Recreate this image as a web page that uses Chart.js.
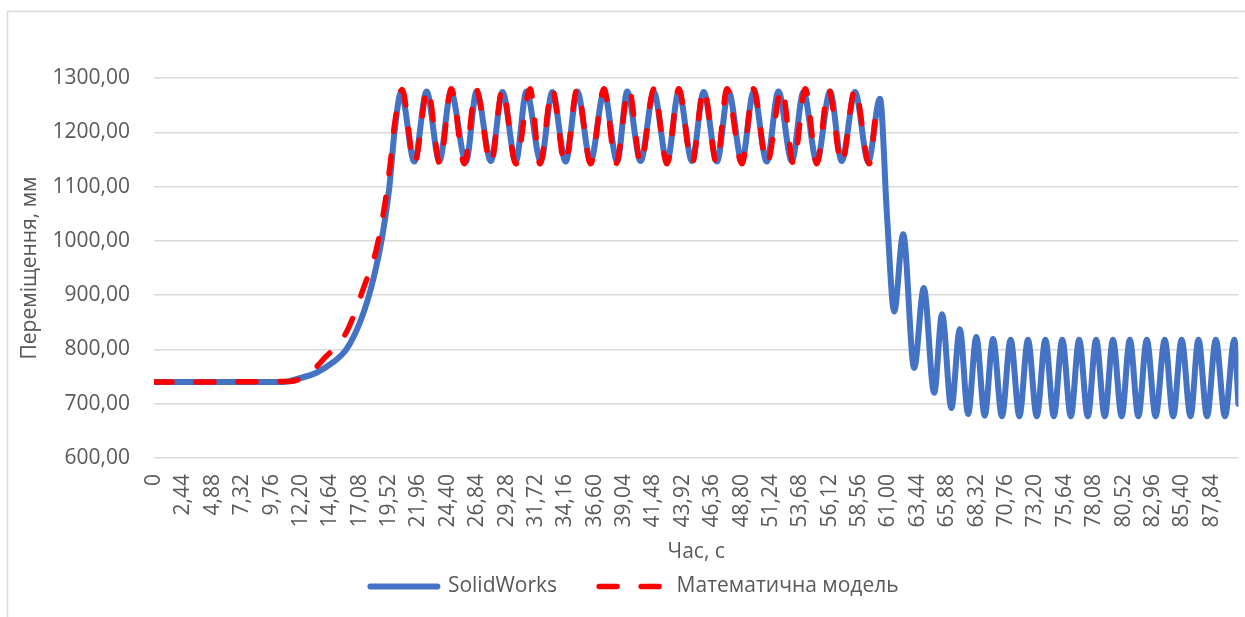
<!DOCTYPE html>
<html>
<head>
<meta charset="utf-8">
<script src="https://cdn.jsdelivr.net/npm/chart.js@4"></script>
<style>
  body { margin: 0; background: #fff; }
  canvas { display: block; }
</style>
</head>
<body>
<canvas id="displacementChart" width="1245" height="617"></canvas>
<script>
// Tick labels of the time axis (s)
const timeTickLabels = ['0', '2,44', '4,88', '7,32', '9,76', '12,20', '14,64', '17,08', '19,52', '21,96',
    '24,40', '26,84', '29,28', '31,72', '34,16', '36,60', '39,04', '41,48', '43,92', '46,36',
    '48,80', '51,24', '53,68', '56,12', '58,56', '61,00', '63,44', '65,88', '68,32', '70,76',
    '73,20', '75,64', '78,08', '80,52', '82,96', '85,40', '87,84'];

// SolidWorks: time (s) and displacement (mm), read at the turning points of the curve
const swTime = [0, 10.69, 12.10, 13.48, 14.85, 15.97, 17.07, 17.90, 18.58, 19.00, 19.55, 19.97,
    20.52, 21.62, 22.64, 23.70, 24.66, 25.91, 26.79, 27.98, 28.94, 30.05, 30.93, 32.12, 33.08,
    34.19, 35.15, 36.26, 37.37, 38.47, 39.30, 40.41, 41.51, 42.61, 43.58, 44.68, 45.65, 46.75,
    47.72, 48.82, 49.79, 50.89, 51.86, 52.97, 53.94, 55.04, 56.15, 57.11, 58.22, 59.32, 60.29,
    60.89, 61.47, 62.22, 63.13, 63.93, 64.79, 65.45, 66.22, 66.92, 67.61, 68.29, 68.99, 69.68,
    70.42, 71.14, 71.87, 72.58, 73.31, 74.03, 74.73, 75.43, 76.14, 76.83, 77.55, 78.24, 78.96,
    79.64, 80.36, 81.04, 81.75, 82.45, 83.18, 83.94, 84.64, 85.34, 86.08, 86.74, 87.45, 88.18,
    88.94, 89.72, 90.06];
const swDisp = [740, 740, 747, 757, 776, 800, 848, 903, 965, 1014, 1100, 1200,
    1273, 1146, 1275, 1147, 1274, 1146, 1275, 1147, 1274, 1146, 1275, 1147, 1274,
    1146, 1275, 1147, 1274, 1146, 1275, 1147, 1274, 1146, 1275, 1147, 1274, 1146,
    1275, 1147, 1274, 1146, 1275, 1147, 1274, 1146, 1275, 1147, 1274, 1146, 1262,
    1040, 870, 1012, 766, 913, 720, 865, 692, 837, 681, 823, 678, 819,
    677, 818, 677, 818, 677, 818, 677, 818, 677, 818, 677, 818, 677,
    818, 677, 818, 677, 818, 677, 818, 677, 818, 677, 818, 677, 818,
    677, 818, 700];

// Mathematical model: time (s) and displacement (mm)
const mmTime = [0, 11.27, 12.92, 14.03, 16.01, 17.40, 18.45, 19.16, 19.61, 19.97,
    20.60, 21.62, 22.73, 23.74, 24.69, 25.77, 26.74, 27.98, 28.94, 30.05, 31.23, 32.06,
    33.06, 34.13, 35.15, 36.26, 37.37, 38.36, 39.44, 40.43, 41.51, 42.61, 43.58, 44.68,
    45.65, 46.73, 47.58, 48.82, 49.79, 50.89, 52.14, 53.11, 54.10, 55.04, 56.01, 57.11,
    58.22, 59.40, 60.02];
const mmDisp = [740, 741, 756, 781, 833, 913, 983, 1066, 1140, 1213,
    1279, 1142, 1280, 1142, 1280, 1142, 1280, 1142, 1280, 1142, 1280, 1142,
    1280, 1142, 1280, 1142, 1280, 1142, 1280, 1142, 1280, 1142, 1280, 1142,
    1280, 1142, 1280, 1142, 1280, 1142, 1280, 1142, 1280, 1142, 1280, 1142,
    1280, 1142, 1256];

const textColor = '#595959';
const gridColor = '#d9d9d9';
const fontFamily = '"Open Sans", "DejaVu Sans", sans-serif';
const fontSize = 21;

function toPoints(xs, ys) {
    return xs.map((x, i) => ({ x: x, y: ys[i] }));
}

// Excel-like light frame around the chart area
const chartFrame = {
    id: 'chartFrame',
    beforeDraw(chart) {
        const c = chart.ctx;
        c.save();
        c.fillStyle = '#fff';
        c.fillRect(0, 0, chart.width, chart.height);
        c.strokeStyle = gridColor;
        c.lineWidth = 1.5;
        c.strokeRect(7.5, 11.5, chart.width + 20, chart.height + 20);
        c.restore();
    }
};

const ctx = document.getElementById('displacementChart').getContext('2d');

const displacementChart = new Chart(ctx, {
    type: 'line',
    data: {
        datasets: [
            {
                label: 'SolidWorks',
                data: toPoints(swTime, swDisp),
                borderColor: '#4472C4',
                borderWidth: 6,
                borderCapStyle: 'round',
                borderJoinStyle: 'round',
                pointRadius: 0,
                cubicInterpolationMode: 'monotone',
                order: 2
            },
            {
                label: 'Математична модель',
                data: toPoints(mmTime, mmDisp),
                borderColor: '#FF0000',
                borderWidth: 5.5,
                borderDash: [18, 24],
                borderCapStyle: 'round',
                borderJoinStyle: 'round',
                pointRadius: 0,
                cubicInterpolationMode: 'monotone',
                order: 1
            }
        ]
    },
    options: {
        responsive: false,
        animation: false,
        devicePixelRatio: 1,
        layout: {
            padding: { left: 28, right: 4, top: 78, bottom: 10 }
        },
        plugins: {
            tooltip: { enabled: false },
            legend: {
                position: 'bottom',
                labels: {
                    usePointStyle: true,
                    pointStyleWidth: 67,
                    padding: 42,
                    color: textColor,
                    font: { family: fontFamily, size: fontSize },
                    generateLabels: chart => chart.data.datasets.map((ds, i) => ({
                        text: ds.label,
                        strokeStyle: ds.borderColor,
                        fillStyle: ds.borderColor,
                        lineWidth: ds.borderWidth,
                        lineDash: ds.borderDash || [],
                        lineCap: 'round',
                        pointStyle: 'line',
                        fontColor: textColor,
                        hidden: false,
                        datasetIndex: i
                    }))
                }
            }
        },
        scales: {
            x: {
                type: 'linear',
                min: 0,
                max: 90.06,
                afterBuildTicks: scale => {
                    scale.ticks = timeTickLabels.map(l => ({ value: parseFloat(l.replace(',', '.')) }));
                },
                afterFit: scale => { scale.height = 76; },
                grid: { display: false },
                border: { display: false },
                ticks: {
                    autoSkip: false,
                    minRotation: 90,
                    maxRotation: 90,
                    padding: 8,
                    color: textColor,
                    font: { family: fontFamily, size: fontSize },
                    callback: (value, index) => timeTickLabels[index]
                },
                title: {
                    display: true,
                    text: 'Час, с',
                    color: textColor,
                    font: { family: fontFamily, size: fontSize },
                    padding: { top: 0, bottom: -31 }
                }
            },
            y: {
                min: 600,
                max: 1300,
                afterFit: scale => { scale.width = 126; },
                grid: { color: gridColor, lineWidth: 1.5, drawTicks: false },
                border: { display: false },
                ticks: {
                    stepSize: 100,
                    padding: 24,
                    color: textColor,
                    font: { family: fontFamily, size: fontSize },
                    callback: value => value.toFixed(2).replace('.', ',')
                },
                title: {
                    display: true,
                    text: 'Переміщення, мм',
                    color: textColor,
                    font: { family: fontFamily, size: fontSize },
                    padding: { top: -11, bottom: 0 }
                }
            }
        }
    },
    plugins: [chartFrame]
});
</script>
</body>
</html>
